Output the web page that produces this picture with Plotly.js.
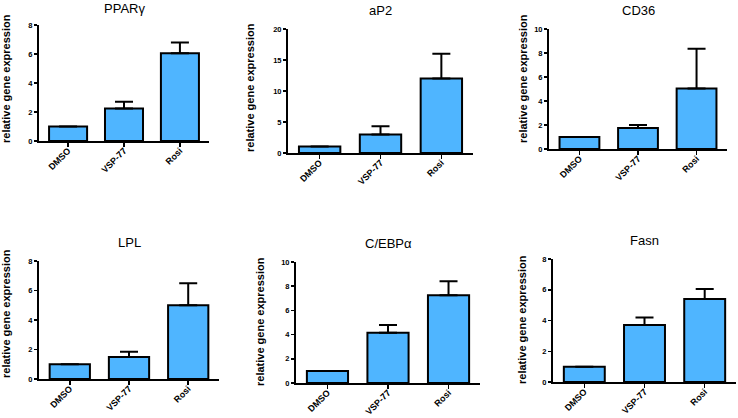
<!DOCTYPE html>
<html>
<head>
<meta charset="utf-8">
<script src="https://cdn.plot.ly/plotly-3.0.1.min.js"></script>
<style>html,body{margin:0;padding:0;background:#fff;}#chart{width:738px;height:418px;}</style>
</head>
<body>
<div id="chart"></div>
<script>
// ---- data ----
const categories = ["DMSO", "VSP-77", "Rosi"];
const genes = ["PPARγ", "aP2", "CD36", "LPL", "C/EBPα", "Fasn"];
const pparg = [1.0, 2.25, 6.05];
const ppargErrTop = [1.0, 2.7, 6.8];
const ap2 = [1.05, 3.0, 12.0];
const ap2ErrTop = [1.05, 4.3, 16.0];
const cd36 = [1.0, 1.75, 5.05];
const cd36ErrTop = [1.0, 2.0, 8.35];
const lpl = [1.0, 1.5, 5.0];
const lplErrTop = [1.0, 1.85, 6.5];
const cebpa = [1.0, 4.15, 7.25];
const cebpaErrTop = [1.0, 4.8, 8.4];
const fasn = [1.0, 3.7, 5.4];
const fasnErrTop = [1.0, 4.2, 6.05];
const yMax = [8, 20, 10, 8, 10, 8];
const yStep = [2, 5, 2, 2, 2, 2];
const yLabel = "relative gene expression";

const series = [pparg, ap2, cd36, lpl, cebpa, fasn];
const errTops = [ppargErrTop, ap2ErrTop, cd36ErrTop, lplErrTop, cebpaErrTop, fasnErrTop];

// ---- layout geometry (pixels) ----
const W = 738, H = 418;
const boxes = [
  {x0: 39, x1: 209, yt: 25, yb: 141, lx: 6, ly: 79, ty: 9},
  {x0: 288, x1: 473, yt: 29, yb: 153, lx: 250, ly: 88, ty: 11},
  {x0: 549, x1: 727, yt: 29, yb: 149, lx: 523, ly: 79, ty: 11},
  {x0: 39, x1: 219, yt: 261, yb: 379, lx: 6, ly: 314, ty: 242},
  {x0: 296, x1: 480, yt: 262, yb: 383, lx: 260, ly: 322, ty: 243},
  {x0: 553, x1: 736, yt: 259, yb: 382, lx: 522, ly: 320, ty: 240}
];

const FONT = "Liberation Sans, Arial, sans-serif";
const traces = [];
const layout = {
  width: W, height: H,
  margin: {l: 0, r: 0, t: 0, b: 0},
  paper_bgcolor: "#fff", plot_bgcolor: "rgba(0,0,0,0)",
  showlegend: false,
  annotations: [],
  font: {family: FONT, color: "#000"}
};

series.forEach((vals, i) => {
  const n = i + 1;
  const xa = n === 1 ? "x" : "x" + n;
  const ya = n === 1 ? "y" : "y" + n;
  const b = boxes[i];
  traces.push({
    type: "bar",
    x: categories,
    y: vals,
    xaxis: xa, yaxis: ya,
    width: 0.68,
    marker: {color: "#4fb5ff", line: {color: "#000", width: 2}},
    error_y: {
      type: "data", symmetric: false,
      array: errTops[i].map((t, k) => t - vals[k]),
      arrayminus: vals.map(() => 0),
      color: "#000", thickness: 2, width: 9
    },
    hoverinfo: "skip"
  });
  const xKey = n === 1 ? "xaxis" : "xaxis" + n;
  const yKey = n === 1 ? "yaxis" : "yaxis" + n;
  layout[xKey] = {
    domain: [b.x0 / W, b.x1 / W],
    anchor: ya,
    range: [-0.52, 2.52],
    type: "category",
    showline: true, linecolor: "#000", linewidth: 2,
    ticks: "outside", ticklen: 4, tickwidth: 1.5, tickcolor: "#000",
    tickangle: -45,
    ticklabelstandoff: -5,
    tickfont: {family: FONT, size: 9, color: "#000", weight: "bold"},
    showgrid: false, zeroline: false, fixedrange: true
  };
  layout[yKey] = {
    domain: [1 - b.yb / H, 1 - b.yt / H],
    anchor: xa,
    range: [0, yMax[i]],
    tickmode: "linear", tick0: 0, dtick: yStep[i],
    showline: true, linecolor: "#000", linewidth: 2,
    ticks: "outside", ticklen: 3, tickwidth: 1.5, tickcolor: "#000",
    tickfont: {family: FONT, size: 7.5, color: "#000", weight: "bold"},
    showgrid: false, zeroline: false, fixedrange: true
  };
  layout.annotations.push({
    xref: "paper", yref: "paper",
    x: ((b.x0 + b.x1) / 2) / W, y: 1 - b.ty / H,
    xanchor: "center", yanchor: "middle",
    text: genes[i], showarrow: false,
    font: {family: FONT, size: 13, color: "#000"}
  });
  layout.annotations.push({
    xref: "paper", yref: "paper",
    x: b.lx / W, y: 1 - b.ly / H,
    xanchor: "center", yanchor: "middle",
    text: yLabel, textangle: -90, showarrow: false,
    font: {family: FONT, size: 11, color: "#000", weight: "bold"}
  });
});

Plotly.newPlot("chart", traces, layout, {displayModeBar: false, staticPlot: true});
</script>
</body>
</html>
